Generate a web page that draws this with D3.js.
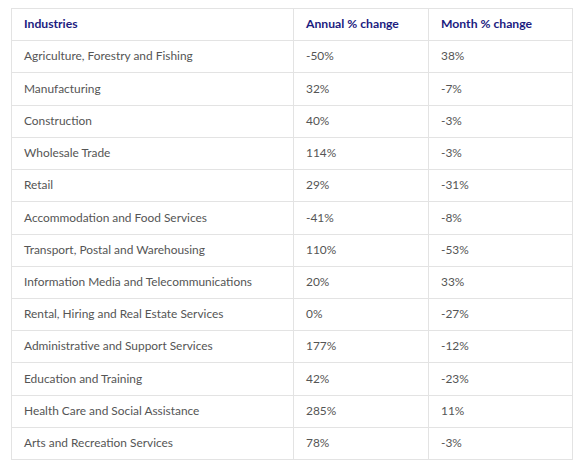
<!DOCTYPE html>
<html><head><meta charset="utf-8">
<script src="https://cdn.jsdelivr.net/npm/d3@7"></script>
<style>body{margin:0;background:#fff}svg{display:block}</style>
</head><body>
<script>
const headers = ["Industries", "Annual % change", "Month % change"];
const industries = [
  "Agriculture, Forestry and Fishing","Manufacturing","Construction","Wholesale Trade","Retail",
  "Accommodation and Food Services","Transport, Postal and Warehousing","Information Media and Telecommunications",
  "Rental, Hiring and Real Estate Services","Administrative and Support Services","Education and Training",
  "Health Care and Social Assistance","Arts and Recreation Services"];
const annualChange = [-50,32,40,114,29,-41,110,20,0,177,42,285,78];
const monthChange = [38,-7,-3,-3,-31,-8,-53,33,-27,-12,-23,11,-3];

(function(){
const W = 583, H = 466;
const tLeft = 11, tRight = 572, tTop = 8, tBottom = 459;
const colEdges = [tLeft, 293, 428, tRight];
const svg = d3.select("body").append("svg").attr("width", W).attr("height", H);
const rows = [headers].concat(industries.map((d,i)=>[d, annualChange[i]+"%", monthChange[i]+"%"]));
const y = d3.scaleBand().domain(d3.range(rows.length)).range([tTop, tBottom]);
const font = "Lato, 'Open Sans', sans-serif";
const g = svg.append("g");
const lc = "#e3e3e3";
g.selectAll("line.h").data(d3.range(rows.length+1)).join("line")
  .attr("x1", tLeft).attr("x2", tRight)
  .attr("y1", i => Math.round(i<rows.length ? y(i) : tBottom)+0.5)
  .attr("y2", i => Math.round(i<rows.length ? y(i) : tBottom)+0.5)
  .attr("stroke", lc).attr("stroke-width", 1);
g.selectAll("line.v").data(colEdges).join("line")
  .attr("x1", d=>d+0.5).attr("x2", d=>d+0.5).attr("y1", tTop).attr("y2", tBottom+1)
  .attr("stroke", lc).attr("stroke-width", 1);
rows.forEach((r, i) => {
  r.forEach((t, j) => {
    g.append("text").attr("x", colEdges[j] + 13).attr("y", y(i) + y.bandwidth()/2)
      .attr("dy", "0.35em").attr("font-family", font).attr("font-size", i===0 ? 12.2 : 11.9)
      .attr("font-weight", i===0 ? 700 : 400)
      .attr("fill", i===0 ? "#1c1c80" : "#555")
      .text(t);
  });
});
})();
</script>
</body></html>
